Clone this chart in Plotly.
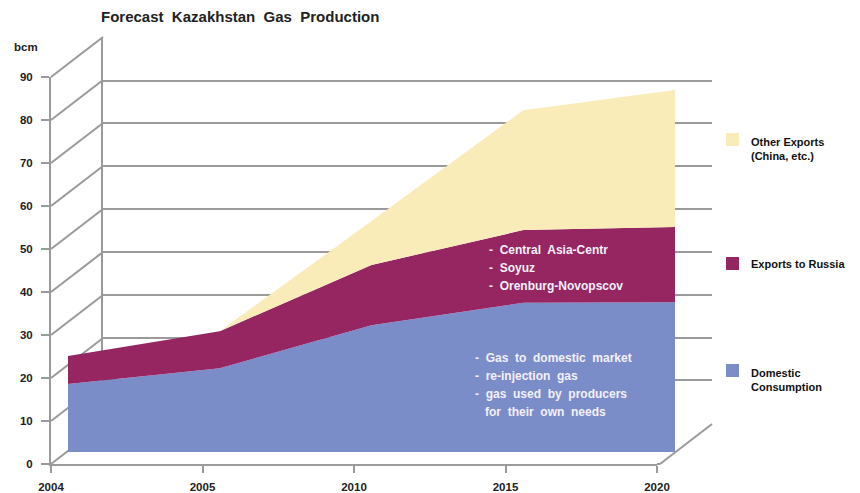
import plotly.graph_objects as go

# ---- data (bcm) ----
years = ["2004", "2005", "2010", "2015", "2020"]
domestic = [15.8, 19.5, 29.5, 34.7, 34.8]
exports_russia = [6.5, 8.6, 14.0, 16.9, 17.5]
other_exports = [0.0, 0.0, 10.2, 27.9, 31.9]
y_ticks = [0, 10, 20, 30, 40, 50, 60, 70, 80, 90]

W, H = 860, 493
def px(x):
    return x / W
def py(y):
    return 1 - y / H

FONT = "Liberation Sans, Arial, sans-serif"
GRID = "#9a9a9a"

# geometry (pixels) of the pseudo-3D box
FX0, FX1 = 51, 657        # front x extent (category 0..4)
FY0, FY90 = 464, 77       # front y (0 and 90)
DX, DY = 52, -40          # back-wall offset
AX, AY = 17, -12          # area plane offset
YMAX = 90

xs = list(range(len(years)))
fig = go.Figure()

# invisible trace to activate back-wall axes
fig.add_trace(go.Scatter(x=xs, y=[None]*len(xs), xaxis="x", yaxis="y", mode="none",
                         showlegend=False, hoverinfo="skip"))

colors = {"dom": "#7b8dc8", "rus": "#952662", "oth": "#f9ecb8"}
fig.add_trace(go.Scatter(x=xs, y=domestic, xaxis="x2", yaxis="y2", stackgroup="s",
                         mode="none", fillcolor=colors["dom"], name="Domestic Consumption",
                         showlegend=False))
fig.add_trace(go.Scatter(x=xs, y=exports_russia, xaxis="x2", yaxis="y2", stackgroup="s",
                         mode="none", fillcolor=colors["rus"], name="Exports to Russia",
                         showlegend=False))
fig.add_trace(go.Scatter(x=xs, y=other_exports, xaxis="x2", yaxis="y2", stackgroup="s",
                         mode="none", fillcolor=colors["oth"], name="Other Exports (China, etc.)",
                         showlegend=False))
# invisible trace to activate front axes
fig.add_trace(go.Scatter(x=xs, y=[None]*len(xs), xaxis="x3", yaxis="y3", mode="none",
                         showlegend=False, hoverinfo="skip"))

tickfont = dict(family=FONT, size=11.5, color="#222", weight="bold")
fig.update_layout(
    width=W, height=H, margin=dict(l=0, r=0, t=0, b=0, autoexpand=False),
    paper_bgcolor="white", plot_bgcolor="rgba(0,0,0,0)",
    # back wall
    xaxis=dict(domain=[px(FX0 + DX), px(FX1 + DX + 3)], range=[0, 4], visible=False,
               automargin=False),
    yaxis=dict(domain=[py(FY0 + DY), py(FY90 + DY)], range=[-0.2, YMAX + 0.2],
               showgrid=True, gridcolor=GRID, gridwidth=2, dtick=10, tick0=0,
               zeroline=False, showline=True, linecolor=GRID, linewidth=2,
               showticklabels=False, ticks="", automargin=False),
    # area plane
    xaxis2=dict(domain=[px(FX0 + AX), px(FX1 + AX + 1)], range=[0, 4], visible=False,
                anchor="y2", automargin=False),
    yaxis2=dict(domain=[py(FY0 + AY), py(FY90 + AY)], range=[0, YMAX], visible=False,
                anchor="x2", automargin=False),
    # front axes
    xaxis3=dict(domain=[px(FX0), px(FX1)], range=[0, 4], anchor="y3",
                tickvals=xs, ticktext=years, ticks="outside", ticklen=7, tickwidth=2,
                tickcolor=GRID, showline=True, linecolor=GRID, linewidth=2,
                showgrid=False, zeroline=False, tickfont=tickfont, automargin=False,
                ticklabelstandoff=4),
    yaxis3=dict(domain=[py(FY0), py(FY90)], range=[0, YMAX], anchor="x3",
                tickvals=y_ticks, ticks="outside", ticklen=8, tickwidth=2,
                tickcolor=GRID, showline=True, linecolor=GRID, linewidth=2,
                showgrid=False, zeroline=False, tickfont=tickfont, automargin=False,
                ticklabelstandoff=6),
)

# diagonal depth lines (3D frame)
shapes = []
scale = (FY0 - FY90) / YMAX
for v in y_ticks:
    yf = FY0 - v * scale
    shapes.append(dict(type="line", xref="paper", yref="paper", layer="below",
                       x0=px(FX0), y0=py(yf), x1=px(FX0 + DX), y1=py(yf + DY),
                       line=dict(color=GRID, width=2)))
shapes.append(dict(type="line", xref="paper", yref="paper",
                   x0=px(FX1), y0=py(FY0), x1=px(FX1 + 3), y1=py(FY0),
                   line=dict(color=GRID, width=2)))
shapes.append(dict(type="line", xref="paper", yref="paper",
                   x0=px(FX1 + 3), y0=py(FY0), x1=px(FX1 + 3 + DX), y1=py(FY0 + DY),
                   line=dict(color=GRID, width=2)))

# legend (custom)
legend_items = [
    (colors["oth"], 140, "Other Exports<br>(China, etc.)"),
    (colors["rus"], 264, "Exports to Russia"),
    (colors["dom"], 371, "Domestic<br>Consumption"),
]
annotations = []
for col, yc, label in legend_items:
    shapes.append(dict(type="rect", xref="paper", yref="paper",
                       x0=px(726), x1=px(739), y0=py(yc - 7), y1=py(yc + 6),
                       fillcolor=col, line=dict(width=0)))
    first_line_y = yc if "<br>" not in label else yc + 9
    annotations.append(dict(xref="paper", yref="paper", x=px(749), y=py(first_line_y),
                            xanchor="left", yanchor="middle", align="left", showarrow=False,
                            text=label,
                            font=dict(family=FONT, size=11, color="#111", weight="bold")))

fig.update_layout(shapes=shapes)

# title and unit
annotations.append(dict(xref="paper", yref="paper", x=px(99), y=py(16), xanchor="left",
                        yanchor="middle", showarrow=False,
                        text="Forecast  Kazakhstan  Gas  Production",
                        font=dict(family=FONT, size=15, color="#222", weight="bold")))
annotations.append(dict(xref="paper", yref="paper", x=px(12), y=py(47), xanchor="left",
                        yanchor="middle", showarrow=False, text="bcm",
                        font=dict(family=FONT, size=11.5, color="#222", weight="bold")))

# in-area notes
txtfont = dict(family=FONT, size=12, color="#f3f0fa", weight="bold")
russia_notes = ["-  Central  Asia-Centr", "-  Soyuz", "-  Orenburg-Novopscov"]
for i, t in enumerate(russia_notes):
    annotations.append(dict(xref="paper", yref="paper", x=px(487), y=py(250 + i * 18),
                            xanchor="left", yanchor="middle", showarrow=False, text=t,
                            font=txtfont))
dom_notes = ["-  Gas  to  domestic  market", "-  re-injection  gas",
             "-  gas  used  by  producers", "   for  their  own  needs"]
for i, t in enumerate(dom_notes):
    annotations.append(dict(xref="paper", yref="paper", x=px(473), y=py(358 + i * 18),
                            xanchor="left", yanchor="middle", showarrow=False, text=t,
                            font=txtfont))

fig.update_layout(annotations=annotations)
fig.write_html("out.html", config={"displayModeBar": False},
               post_script="document.body.style.margin='0';document.body.style.overflow='hidden';")
